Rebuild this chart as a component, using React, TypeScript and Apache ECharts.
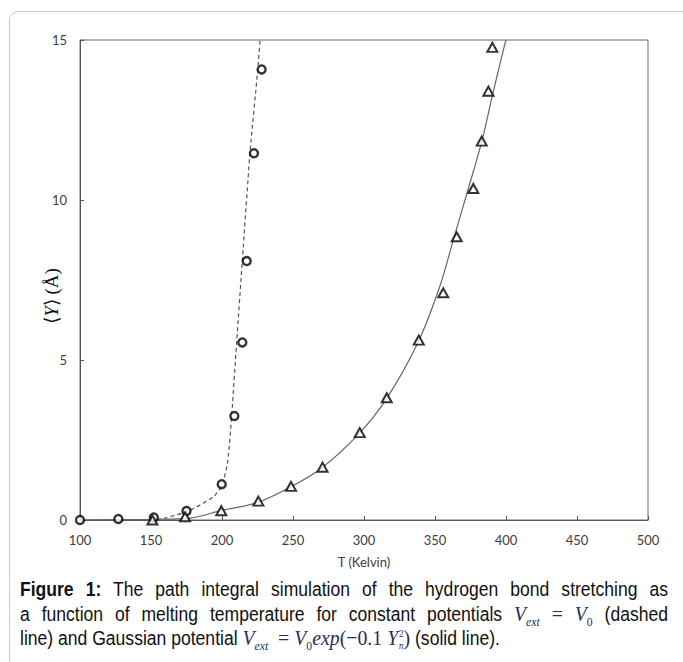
import React, { useEffect, useRef } from "react";
import * as echarts from "echarts";

// Data
const circleT = [100, 127, 152, 175, 199.8, 208.7, 214.3, 217.4, 222.5, 227.9];
const circleY = [0, 0.03, 0.08, 0.28, 1.12, 3.25, 5.55, 8.09, 11.46, 14.08];

const triangleT = [151, 174, 199.5, 225.6, 248.6, 270.8, 297, 316, 338.6, 355.8, 365.3, 377, 382.9, 387.6, 390.4];
const triangleY = [0, 0.1, 0.29, 0.59, 1.05, 1.65, 2.73, 3.82, 5.62, 7.1, 8.85, 10.36, 11.84, 13.4, 14.77];

// dashed fit curve (constant potential)
const dashedT = [100, 150, 160, 177.5, 194, 200, 203.8, 206.8, 210.3, 214.3, 219.7, 225.2, 226.8];
const dashedY = [0, 0.01, 0.06, 0.31, 0.73, 1.1, 1.77, 3.25, 5.55, 8.09, 11.46, 14.08, 15];

// solid fit curve (Gaussian potential)
const solidT = [100, 150, 177.5, 200, 224.4, 249, 271, 297, 316, 338, 353, 363.5, 373.5, 383, 390.6, 398.6, 400];
const solidY = [0, 0.02, 0.06, 0.3, 0.54, 1.05, 1.65, 2.72, 3.8, 5.55, 7.25, 8.85, 10.36, 11.84, 13.3, 14.77, 15];

const xTicks = [100, 150, 200, 250, 300, 350, 400, 450, 500];
const yTicks = [0, 5, 10, 15];

const zip = (a: number[], b: number[]) => a.map((v, i) => [v, b[i]]);

function Chart() {
  const ref = useRef<HTMLDivElement>(null);
  useEffect(() => {
    if (!ref.current) return;
    const chart = echarts.init(ref.current, null, { renderer: "svg" });
    const axisFont = { fontFamily: "Lato", fontSize: 13, color: "#404040" };
    chart.setOption({
      animation: false,
      backgroundColor: "transparent",
      grid: {
        left: 80,
        top: 40,
        width: 568,
        height: 480,
        show: true,
        borderColor: "#666",
        borderWidth: 1,
        backgroundColor: "transparent",
      },
      graphic: [
        {
          type: "text",
          x: 51,
          y: 296,
          rotation: Math.PI / 2,
          style: {
            text: "{a|⟨}{i|Y}{a|⟩ (Å)}",
            align: "center",
            verticalAlign: "middle",
            rich: {
              a: { fontFamily: "Liberation Serif", fontSize: 19, fill: "#111" },
              i: { fontFamily: "Liberation Serif", fontStyle: "italic", fontSize: 19, fill: "#111" },
            },
          },
        },
      ],
      xAxis: {
        type: "value",
        min: xTicks[0],
        max: xTicks[xTicks.length - 1],
        interval: 50,
        name: "T (Kelvin)",
        nameLocation: "middle",
        nameGap: 35,
        nameTextStyle: { fontFamily: "Lato", fontSize: 13, color: "#404040" },
        axisLine: { lineStyle: { color: "#555", width: 1 } },
        axisTick: { inside: true, length: 4, lineStyle: { color: "#555" } },
        axisLabel: { ...axisFont, margin: 13 },
        splitLine: { show: false },
      },
      yAxis: {
        type: "value",
        min: yTicks[0],
        max: yTicks[yTicks.length - 1],
        interval: 5,
        axisLine: { show: true, lineStyle: { color: "#555", width: 1 } },
        axisTick: { show: true, inside: true, length: 4, lineStyle: { color: "#555" } },
        axisLabel: { ...axisFont, margin: 13 },
        splitLine: { show: false },
      },
      series: [
        {
          type: "line",
          data: zip(dashedT, dashedY),
          smooth: 0.25,
          symbol: "none",
          lineStyle: { color: "#555", width: 1.2, type: [4, 3] },
          z: 2,
        },
        {
          type: "line",
          data: zip(solidT, solidY),
          smooth: 0.35,
          symbol: "none",
          lineStyle: { color: "#666", width: 1.2 },
          z: 2,
        },
        {
          type: "scatter",
          data: zip(circleT, circleY),
          symbol: "circle",
          symbolSize: 8,
          itemStyle: { color: "#fff", borderColor: "#000", borderWidth: 2.4 },
          z: 5,
        },
        {
          type: "scatter",
          data: zip(triangleT, triangleY),
          symbol: "triangle",
          symbolSize: [10, 9],
          itemStyle: { color: "#fff", borderColor: "#000", borderWidth: 2 },
          z: 5,
        },
      ],
    });
    return () => chart.dispose();
  }, []);
  return <div ref={ref} style={{ position: "absolute", left: 0, top: 0, width: 683, height: 575 }} />;
}

const mathStyle: React.CSSProperties = {
  fontFamily: "'Liberation Serif', 'DejaVu Serif', serif",
  fontStyle: "italic",
  color: "#1f2f5c",
  fontSize: 22,
};

function M({ children }: { children: React.ReactNode }) {
  return <span style={mathStyle}>{children}</span>;
}

const SCALE = 0.9;

export default function App() {
  const lineStyle: React.CSSProperties = {
    textAlign: "justify",
    textAlignLast: "justify",
    whiteSpace: "nowrap",
    height: 24.5,
    lineHeight: "24.5px",
  };
  return (
    <div
      style={{
        position: "fixed",
        left: 0,
        top: 0,
        width: 683,
        height: 662,
        overflow: "hidden",
        background: "#fff",
      }}
    >
      <div
        style={{
          position: "absolute",
          left: 9,
          top: 11,
          width: 720,
          height: 700,
          border: "1px solid #c8c8c8",
          borderRadius: 9,
          boxSizing: "border-box",
        }}
      />
      <Chart />
      <div
        style={{
          position: "absolute",
          left: 20,
          top: 577,
          width: 648 / SCALE,
          transform: `scaleX(${SCALE})`,
          transformOrigin: "0 0",
          fontFamily: "'Liberation Sans', Arial, sans-serif",
          fontSize: 19.5,
          color: "#111",
        }}
      >
        <div style={lineStyle}>
          <b>Figure 1:</b> The path integral simulation of the hydrogen bond stretching as
        </div>
        <div style={lineStyle}>
          a function of melting temperature for constant potentials{" "}
          <M>
            V<sub style={{ fontSize: 13 }}>ext</sub>
          </M>
          <span style={{ ...mathStyle, fontStyle: "normal" }}>&nbsp;=&nbsp;</span>
          <M>
            V<sub style={{ fontSize: 13, fontStyle: "normal" }}>0</sub>
          </M>{" "}
          (dashed
        </div>
        <div style={{ ...lineStyle, textAlignLast: "left" }}>
          line) and Gaussian potential{" "}
          <M>
            V<sub style={{ fontSize: 13 }}>ext</sub>
          </M>
          <span style={{ ...mathStyle, fontStyle: "normal" }}>&nbsp;&nbsp;=&nbsp;</span>
          <M>
            V<sub style={{ fontSize: 13, fontStyle: "normal" }}>0</sub>
          </M>
          <M>exp</M>
          <span style={{ ...mathStyle, fontStyle: "normal" }}>(−0.1&nbsp;</span>
          <M>Y</M>
          <span
            style={{
              ...mathStyle,
              display: "inline-flex",
              flexDirection: "column",
              verticalAlign: "middle",
              fontSize: 10,
              lineHeight: "12px",
              marginLeft: 1,
            }}
          >
            <span style={{ fontStyle: "normal" }}>2</span>
            <span>n</span>
          </span>
          <span style={{ ...mathStyle, fontStyle: "normal" }}>)</span> (solid line).
        </div>
      </div>
    </div>
  );
}
